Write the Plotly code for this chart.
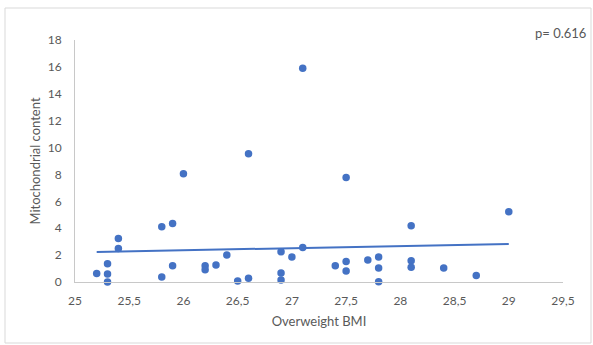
import numpy as np
import plotly.graph_objects as go

bmi = [25.2, 25.3, 25.3, 25.3, 25.4, 25.4, 25.8, 25.8, 25.9, 25.9, 26.0,
       26.2, 26.2, 26.3, 26.4, 26.5, 26.6, 26.6, 26.9, 26.9, 26.9, 27.0,
       27.1, 27.1, 27.4, 27.5, 27.5, 27.5, 27.7, 27.8, 27.8, 27.8,
       28.1, 28.1, 28.1, 28.4, 28.7, 29.0]
mito = [0.64, 1.36, 0.6, 0.0, 3.24, 2.5, 4.11, 0.37, 4.36, 1.21, 8.05,
        1.21, 0.91, 1.26, 2.0, 0.07, 9.54, 0.27, 2.25, 0.67, 0.15, 1.86,
        2.57, 15.9, 1.21, 7.78, 1.53, 0.82, 1.63, 1.86, 1.04, 0.02,
        4.19, 1.58, 1.09, 1.04, 0.49, 5.23]
x_ticks = [25, 25.5, 26, 26.5, 27, 27.5, 28, 28.5, 29, 29.5]
y_ticks = [0, 2, 4, 6, 8, 10, 12, 14, 16, 18]
p_label = "p= 0.616"

slope, intercept = np.polyfit(bmi, mito, 1)
tx = [min(bmi), max(bmi)]
ty = [slope * v + intercept for v in tx]

blue = "#4472C4"
font = "Lato, 'Open Sans', sans-serif"
grey = "#595959"

fig = go.Figure()
fig.add_trace(go.Scatter(x=tx, y=ty, mode="lines",
                         line=dict(color=blue, width=2), hoverinfo="skip"))
fig.add_trace(go.Scatter(x=bmi, y=mito, mode="markers",
                         marker=dict(color=blue, size=7.5, line=dict(width=0)),
                         cliponaxis=False))

fig.update_layout(
    width=593, height=345,
    margin=dict(l=75, r=30, t=40, b=63),
    paper_bgcolor="white", plot_bgcolor="white",
    showlegend=False,
    separators=",.",
    font=dict(family=font, size=12, color=grey),
    shapes=[dict(type="rect", xref="paper", yref="paper",
                 x0=-70 / 488, x1=(591 - 75) / 488,
                 y0=-(343 - 282) / 242, y1=(282 - 8) / 242,
                 line=dict(color="#D9D9D9", width=1), layer="below")],
    annotations=[dict(text=p_label, xref="paper", yref="paper",
                      x=(588 - 75) / 488, y=(282 - 33) / 242,
                      xanchor="right", yanchor="middle", showarrow=False,
                      font=dict(family=font, size=13, color=grey))],
)
fig.update_xaxes(range=[25, 29.5], tickvals=x_ticks, showgrid=False,
                 zeroline=False, showline=True, linecolor="#C8C8C8",
                 linewidth=1, ticks="", ticklabelstandoff=8,
                 title=dict(text="Overweight BMI", standoff=9,
                            font=dict(family=font, size=13, color=grey)))
fig.update_yaxes(range=[0, 18], tickvals=y_ticks, showgrid=False,
                 zeroline=False, showline=True, linecolor="#C8C8C8",
                 linewidth=1, ticks="", ticklabelstandoff=10,
                 title=dict(text="Mitochondrial content", standoff=4,
                            font=dict(family=font, size=13, color=grey)))

fig.write_html("out.html")
